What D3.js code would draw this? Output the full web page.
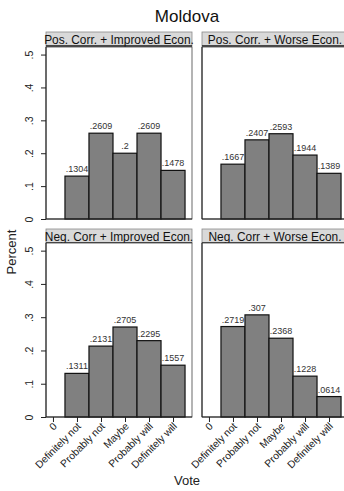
<!DOCTYPE html>
<html>
<head>
<meta charset="utf-8">
<script src="https://cdn.jsdelivr.net/npm/d3@7"></script>
<style>
  html, body { margin: 0; padding: 0; background: #fff; }
  svg { display: block; font-family: "Liberation Sans", Arial, sans-serif; }
</style>
</head>
<body>
<script>
// Vote categories (0 is an empty slot on the axis)
const categories = ["0", "Definitely not", "Probably not", "Maybe", "Probably will", "Definitely will"];
const panelTitles = [
  "Pos. Corr. + Improved Econ.",
  "Pos. Corr. + Worse Econ.",
  "Neg. Corr + Improved Econ.",
  "Neg. Corr + Worse Econ."
];
// Share of respondents for categories 1..5 in each panel
const posImproved = [0.1304, 0.2609, 0.2, 0.2609, 0.1478];
const posWorse    = [0.1667, 0.2407, 0.2593, 0.1944, 0.1389];
const negImproved = [0.1311, 0.2131, 0.2705, 0.2295, 0.1557];
const negWorse    = [0.2719, 0.307, 0.2368, 0.1228, 0.0614];
const yTicks = [0, 0.1, 0.2, 0.3, 0.4, 0.5];

const W = 344, H = 491;
const svg = d3.select("body").append("svg").attr("width", W).attr("height", H);

const colX = [46, 202];
const panelW = 146;
const rows = [
  { stripTop: 32, plotTop: 47, plotBottom: 219 },
  { stripTop: 229, plotTop: 243, plotBottom: 417 }
];
const stripH = 14;

const fmt = v => v === 0 ? "0" : String(+v.toFixed(4)).replace(/^0/, "");

const x = d3.scaleLinear().domain([-0.29, 5.79]).range([0, panelW]);

const panels = [
  { r: 0, c: 0, values: posImproved },
  { r: 0, c: 1, values: posWorse },
  { r: 1, c: 0, values: negImproved },
  { r: 1, c: 1, values: negWorse }
];

svg.append("text")
  .attr("x", 187).attr("y", 22)
  .attr("text-anchor", "middle")
  .attr("font-size", 17)
  .attr("fill", "#111")
  .text("Moldova");

panels.forEach((p, i) => {
  const row = rows[p.r];
  const x0 = colX[p.c];
  const ph = row.plotBottom - row.plotTop;
  const y = d3.scaleLinear().domain([0, 0.523]).range([ph, 0]);

  // strip header
  const strip = svg.append("g").attr("transform", `translate(${x0},${row.stripTop})`);
  strip.append("rect")
    .attr("width", panelW).attr("height", stripH)
    .attr("fill", "#d9d9d9").attr("stroke", "#8a8a8a").attr("stroke-width", 0.8);
  strip.append("line")
    .attr("x1", 0).attr("x2", panelW).attr("y1", stripH).attr("y2", stripH)
    .attr("stroke", "#222").attr("stroke-width", 1.4);
  strip.append("text")
    .attr("x", panelW / 2).attr("y", stripH - 2.5)
    .attr("text-anchor", "middle")
    .attr("font-size", 11.9)
    .attr("fill", "#111")
    .text(panelTitles[i]);

  const g = svg.append("g").attr("transform", `translate(${x0},${row.plotTop})`);

  // plot frame
  g.append("rect")
    .attr("width", panelW).attr("height", ph)
    .attr("fill", "#fff").attr("stroke", "#444").attr("stroke-width", 0.8);

  const data = p.values.map((v, k) => ({ cat: k + 1, v }));

  g.selectAll("rect.bar").data(data).enter().append("rect")
    .attr("class", "bar")
    .attr("x", d => x(d.cat - 0.5))
    .attr("width", d => x(d.cat + 0.5) - x(d.cat - 0.5))
    .attr("y", d => y(d.v))
    .attr("height", d => ph - y(d.v))
    .attr("fill", "#808080")
    .attr("stroke", "#111")
    .attr("stroke-width", 1.2);

  g.selectAll("text.val").data(data).enter().append("text")
    .attr("class", "val")
    .attr("x", d => x(d.cat))
    .attr("y", d => y(d.v) - 4)
    .attr("text-anchor", "middle")
    .attr("font-size", 9)
    .attr("fill", "#333")
    .text(d => fmt(d.v));

  // axis baseline & left edge
  g.append("line")
    .attr("x1", 0).attr("x2", panelW).attr("y1", ph).attr("y2", ph)
    .attr("stroke", "#222").attr("stroke-width", 1);
  g.append("line")
    .attr("x1", 0).attr("x2", 0).attr("y1", 0).attr("y2", ph)
    .attr("stroke", "#222").attr("stroke-width", 1);

  if (p.c === 0) {
    const ya = g.append("g").call(
      d3.axisLeft(y).tickValues(yTicks).tickSize(5).tickFormat(fmt)
    );
    ya.select(".domain").remove();
    ya.selectAll(".tick line").attr("stroke", "#222");
    ya.selectAll(".tick text")
      .attr("font-size", 10.5)
      .attr("fill", "#222")
      .attr("x", null).attr("dy", null)
      .attr("text-anchor", "middle")
      .attr("transform", "translate(-13,0) rotate(-90)")
      .attr("y", 0);
  }

  if (p.r === 1) {
    const xa = g.append("g").attr("transform", `translate(0,${ph})`).call(
      d3.axisBottom(x).tickValues(d3.range(categories.length)).tickSize(5)
        .tickFormat(k => categories[k])
    );
    xa.select(".domain").remove();
    xa.selectAll(".tick line").attr("stroke", "#222");
    xa.selectAll(".tick text")
      .attr("font-size", 10.3)
      .attr("fill", "#222")
      .attr("text-anchor", "end")
      .attr("dy", null)
      .attr("y", 0)
      .attr("transform", "translate(4,10) rotate(-45)");
  }
});

svg.append("text")
  .attr("transform", "translate(16,252) rotate(-90)")
  .attr("text-anchor", "middle")
  .attr("font-size", 13)
  .attr("fill", "#222")
  .text("Percent");

svg.append("text")
  .attr("x", 187).attr("y", 485)
  .attr("text-anchor", "middle")
  .attr("font-size", 13)
  .attr("fill", "#222")
  .text("Vote");
</script>
</body>
</html>
